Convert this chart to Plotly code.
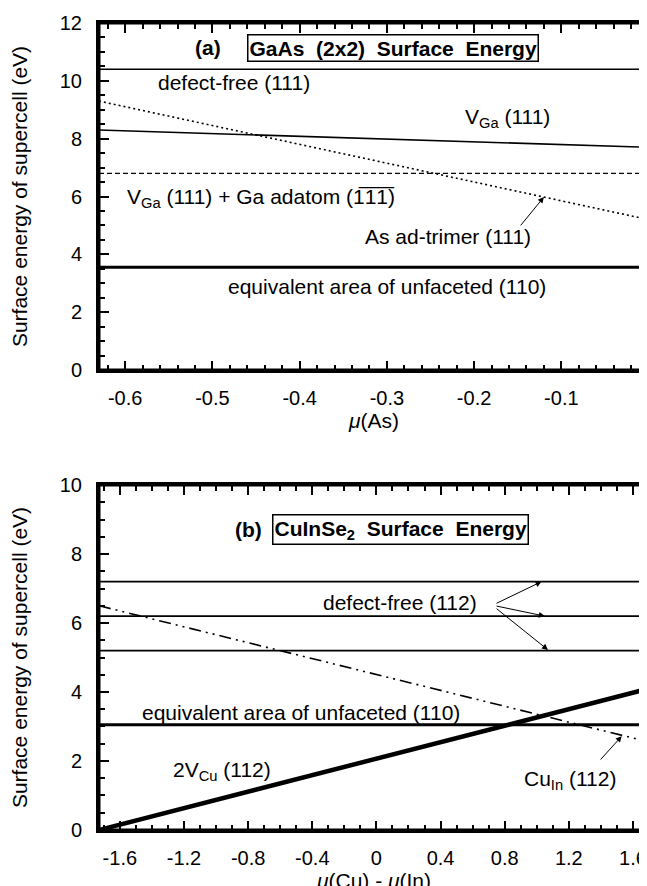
import plotly.graph_objects as go

# ---------------- data ----------------
# panel (a) GaAs
x_a = [-0.63, 0.0]
defect_free_111 = [10.4, 10.4]
vga_111 = [8.3, 7.7]
vga_adatom = [6.8, 6.8]
as_trimer = [9.3, 5.2]
unfaceted_110_a = [3.55, 3.55]
xticks_a = [-0.6, -0.5, -0.4, -0.3, -0.2, -0.1, 0.0]
xticklabels_a = ["-0.6", "-0.5", "-0.4", "-0.3", "-0.2", "-0.1", "0"]
yticks_a = [0, 2, 4, 6, 8, 10, 12]

# panel (b) CuInSe2
x_b = [-1.73, 1.70]
defect_free_112_hi = [7.2, 7.2]
defect_free_112_mid = [6.2, 6.2]
defect_free_112_lo = [5.2, 5.2]
unfaceted_110_b = [3.05, 3.05]
v2cu_112 = [0.0, 4.1]
cuin_112 = [6.5, 2.55]
xticks_b = [-1.6, -1.2, -0.8, -0.4, 0.0, 0.4, 0.8, 1.2, 1.6]
xticklabels_b = ["-1.6", "-1.2", "-0.8", "-0.4", "0", "0.4", "0.8", "1.2", "1.6"]
yticks_b = [0, 2, 4, 6, 8, 10]

FONT = "Liberation Sans, Arial, Helvetica, sans-serif"
BLACK = "#000000"
DOM_A = [0.570, 1.0]
DOM_B = [0.0, 0.4275]
RX_A = [-0.63, 0.0005]
RY_A = [0, 12]
RX_B = [x_b[0], x_b[1]]
RY_B = [0, 10]

fig = go.Figure()

def line(x, y, xa, ya, width, dash="solid"):
    fig.add_trace(go.Scatter(x=x, y=y, mode="lines", xaxis=xa, yaxis=ya,
                             line=dict(color=BLACK, width=width, dash=dash),
                             showlegend=False, hoverinfo="skip"))

# panel a
line(x_a, defect_free_111, "x", "y", 1.6)
line(x_a, vga_111, "x", "y", 1.6)
line(x_a, vga_adatom, "x", "y", 1.4, "5px,3px")
line(x_a, as_trimer, "x", "y", 1.6, "2px,3px")
line(x_a, unfaceted_110_a, "x", "y", 3)

# panel b
line(x_b, defect_free_112_hi, "x2", "y2", 1.6)
line(x_b, defect_free_112_mid, "x2", "y2", 1.6)
line(x_b, defect_free_112_lo, "x2", "y2", 1.6)
line(x_b, unfaceted_110_b, "x2", "y2", 3)
line(x_b, v2cu_112, "x2", "y2", 4.5)
line(x_b, cuin_112, "x2", "y2", 1.6, "12px,5px,2px,5px,2px,5px")

# invisible carriers for the tick-only helper axes (inside ticks on all four sides)
for xa, ya, xs, ys in [("x3", "y3", x_a, unfaceted_110_a), ("x4", "y4", x_a, unfaceted_110_a),
                       ("x5", "y5", x_b, unfaceted_110_b), ("x6", "y6", x_b, unfaceted_110_b)]:
    fig.add_trace(go.Scatter(x=xs, y=ys, xaxis=xa, yaxis=ya, mode="none",
                             showlegend=False, hoverinfo="skip"))

main_common = dict(showline=True, linecolor=BLACK, linewidth=3, mirror=True,
                   ticks="", showgrid=False, zeroline=False,
                   automargin=False, tickmode="array", ticklabeloverflow="allow",
                   tickfont=dict(family=FONT, size=20, color=BLACK))
TITLE_Y = dict(text="Surface energy of supercell (eV)", font=dict(family=FONT, size=21), standoff=30)

def helper(overlay, side, position, rng, dom, dtick, mdtick):
    return dict(overlaying=overlay, side=side, anchor="free", position=position,
                range=rng, domain=dom, tickmode="linear", tick0=0, dtick=dtick,
                ticks="outside", ticklen=9, tickwidth=2, tickcolor=BLACK,
                minor=dict(ticks="outside", ticklen=5, dtick=mdtick, tickwidth=1.6,
                           tickcolor=BLACK, showgrid=False),
                showticklabels=False, showline=False, showgrid=False,
                zeroline=False, automargin=False)

fig.update_layout(
    width=647, height=886,
    margin=dict(l=91, r=6, t=15, b=64),
    plot_bgcolor="rgba(0,0,0,0)", paper_bgcolor="white",
    font=dict(family=FONT, color=BLACK),
    xaxis=dict(main_common, domain=[0, 1], anchor="y", range=RX_A,
               tickvals=xticks_a, ticktext=xticklabels_a, ticklabelstandoff=8,
               title=dict(text="<i>μ</i>(As)", font=dict(family=FONT, size=21), standoff=6)),
    yaxis=dict(main_common, domain=DOM_A, anchor="x", range=RY_A,
               tickvals=yticks_a, ticklabelstandoff=10, title=TITLE_Y),
    xaxis2=dict(main_common, domain=[0, 1], anchor="y2", range=RX_B,
                tickvals=xticks_b, ticktext=xticklabels_b, ticklabelstandoff=8,
                title=dict(text="<i>μ</i>(Cu) - <i>μ</i>(In)", font=dict(family=FONT, size=21), standoff=6)),
    yaxis2=dict(main_common, domain=DOM_B, anchor="x2", range=RY_B,
                tickvals=yticks_b, ticklabelstandoff=10, title=TITLE_Y),
    # helper tick axes, panel a
    xaxis3=helper("x", "top", DOM_A[0], RX_A, [0, 1], 0.1, 0.02),
    yaxis3=helper("y", "right", 0, RY_A, DOM_A, 2, 0.5),
    xaxis4=helper("x", "bottom", DOM_A[1], RX_A, [0, 1], 0.1, 0.02),
    yaxis4=helper("y", "left", 1, RY_A, DOM_A, 2, 0.5),
    # helper tick axes, panel b
    xaxis5=helper("x2", "top", DOM_B[0], RX_B, [0, 1], 0.4, 0.1),
    yaxis5=helper("y2", "right", 0, RY_B, DOM_B, 2, 0.5),
    xaxis6=helper("x2", "bottom", DOM_B[1], RX_B, [0, 1], 0.4, 0.1),
    yaxis6=helper("y2", "left", 1, RY_B, DOM_B, 2, 0.5),
)

# plot frames
for xr, yr in [("x domain", "y domain"), ("x2 domain", "y2 domain")]:
    fig.add_shape(type="rect", xref=xr, yref=yr, x0=0, x1=1, y0=0, y1=1,
                  line=dict(color=BLACK, width=3), layer="above")

TF = dict(family=FONT, size=21, color=BLACK)

def text(x, y, s, xr="x", yr="y", **kw):
    fig.add_annotation(x=x, y=y, xref=xr, yref=yr, text=s, showarrow=False, font=TF, **kw)

def arrow(x0, y0, x1, y1, xr="x", yr="y"):
    fig.add_annotation(x=x1, y=y1, ax=x0, ay=y0, xref=xr, yref=yr, axref=xr, ayref=yr,
                       text="", showarrow=True, arrowhead=2, arrowsize=1.2,
                       arrowwidth=1, arrowcolor=BLACK)

# panel a annotations
text(-0.505, 11.15, "<b>(a)</b>")
text(-0.293, 11.15, "<b>GaAs  (2x2)  Surface  Energy</b>",
     bordercolor=BLACK, borderwidth=1.5, borderpad=1)
text(-0.475, 9.95, "defect-free (111)")
text(-0.162, 8.7, "V<sub>Ga</sub> (111)")
text(-0.444, 5.95, "V<sub>Ga</sub> (111) + Ga adatom (1\u03051\u03051\u0305)")
text(-0.23, 4.6, "As ad-trimer (111)")
arrow(-0.148, 4.95, -0.12, 5.98)
text(-0.30, 2.9, "equivalent area of unfaceted (110)")

# panel b annotations
text(-0.80, 8.7, "<b>(b)</b>", "x2", "y2")
text(0.15, 8.7, "<b>CuInSe<sub>2</sub>  Surface  Energy</b>", "x2", "y2",
     bordercolor=BLACK, borderwidth=1.5, borderpad=1)
text(0.15, 6.6, "defect-free (112)", "x2", "y2")
arrow(0.74, 6.55, 1.03, 7.2, "x2", "y2")
arrow(0.74, 6.5, 1.05, 6.2, "x2", "y2")
arrow(0.74, 6.45, 1.07, 5.22, "x2", "y2")
text(-0.47, 3.4, "equivalent area of unfaceted (110)", "x2", "y2")
text(-0.96, 1.7, "2V<sub>Cu</sub> (112)", "x2", "y2")
text(1.21, 1.45, "Cu<sub>In</sub> (112)", "x2", "y2")
arrow(1.39, 2.0, 1.53, 2.72, "x2", "y2")

fig.write_html("out.html")
